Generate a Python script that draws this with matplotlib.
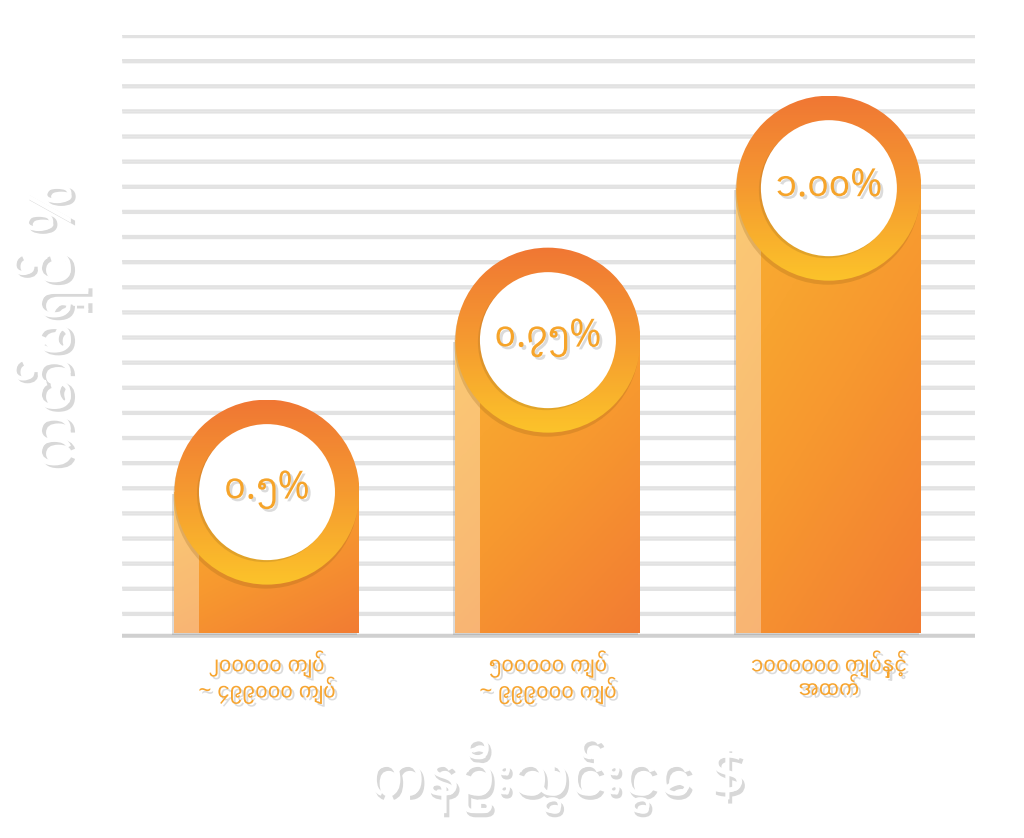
import matplotlib
matplotlib.use("Agg")
import numpy as np
import matplotlib.pyplot as plt
import matplotlib.patheffects as pe
from matplotlib.patches import Rectangle, Ellipse
from matplotlib.colors import LinearSegmentedColormap

plt.rcParams['font.family'] = ['Myanmar Sans Pro', 'Noto Sans Myanmar', 'Padauk', 'DejaVu Sans']

# datos
categorias = ["၂၀၀၀၀၀ ကျပ်\n~ ၄၉၉၀၀၀ ကျပ်",
              "၅၀၀၀၀၀ ကျပ်\n~ ၉၉၉၀၀၀ ကျပ်",
              "၁၀၀၀၀၀၀ ကျပ်နှင့်\nအထက်"]
valores = [0.5, 0.75, 1.0]
etiquetas = ["၀.၅%", "၀.၇၅%", "၁.၀၀%"]
titulo_x = "ကနဦးသွင်းငွေ $"
titulo_y = "ကော်မရှင် %"

W, H = 1024, 838
fig = plt.figure(figsize=(W / 100, H / 100), dpi=100)
izq, der, arr, abj = 122, 975, 35, 638
ax = fig.add_axes([izq / W, 1 - abj / H, (der - izq) / W, (abj - arr) / H])

xlim = (-0.516, 2.52)
ylim = (0.26, 1.252)
ax.set_xlim(*xlim)
ax.set_ylim(*ylim)
sx = (der - izq) / (xlim[1] - xlim[0])   # px por unidad
sy = (abj - arr) / (ylim[1] - ylim[0])

sombra_linea = [pe.SimpleLineShadow(offset=(1, -1.5), shadow_color='#a0a0a0', alpha=0.3), pe.Normal()]
sombra_texto = [pe.SimplePatchShadow(offset=(2, -2), shadow_rgbFace='#8a8a8a', alpha=0.3), pe.Normal()]

# lineas de fondo
for y in np.linspace(ylim[0], ylim[1], 25)[1:]:
    ax.axhline(y, color='#e2e2e2', lw=1.6, zorder=1, snap=False, path_effects=sombra_linea)
ax.axhline(ylim[0] + 0.004, color='#d0d0d0', lw=2.6, zorder=1, snap=False, path_effects=sombra_linea)

cmap_barra = LinearSegmentedColormap.from_list('barra', ['#f9b031', '#f7982f', '#f27c33'])
cmap_anillo = LinearSegmentedColormap.from_list('anillo', ['#f07734', '#f59a30', '#fcc32a'])

R = 92.5      # radio exterior px
r = 68        # radio circulo blanco px
franja = 25   # franja clara izquierda px

for i, (v, txt) in enumerate(zip(valores, etiquetas)):
    w = 2 * R / sx
    x0 = i - w / 2
    base = ylim[0] + 5 / sy

    # sombra barra
    ax.add_patch(Rectangle((x0 - 2 / sx, base - 2 / sy), w, v - base, color='#888888', alpha=0.3, lw=0, zorder=2))
    barra = Rectangle((x0, base), w, v - base, facecolor='none', lw=0, zorder=3)
    ax.add_patch(barra)
    gx, gy = np.meshgrid(np.linspace(0, 1, 100), np.linspace(0, 1, 200))
    grad = (gx * 0.4 + gy * 0.6)
    im = ax.imshow(grad, cmap=cmap_barra, extent=(x0, x0 + w, base, v), origin='upper',
                   aspect='auto', zorder=3, interpolation='bilinear')
    im.set_clip_path(barra)
    ax.add_patch(Rectangle((x0, base), franja / sx, v - base, color='white', alpha=0.33, lw=0, zorder=3.5))

    # sombra anillo
    ax.add_patch(Ellipse((i - 1 / sx, v - 4 / sy), 2 * R / sx, 2 * R / sy, color='#8a5a10', alpha=0.22, lw=0, zorder=4))
    anillo = Ellipse((i, v), 2 * R / sx, 2 * R / sy, facecolor='none', lw=0, zorder=4.5)
    ax.add_patch(anillo)
    grad2 = np.linspace(0, 1, 200)[:, None] * np.ones((1, 10))
    im2 = ax.imshow(grad2, cmap=cmap_anillo, extent=(i - R / sx, i + R / sx, v - R / sy, v + R / sy),
                    origin='upper', aspect='auto', zorder=4.5, interpolation='bilinear')
    im2.set_clip_path(anillo)

    # circulo blanco
    ax.add_patch(Ellipse((i - 2 / sx, v - 2 / sy), 2 * r / sx, 2 * r / sy, color='#9a6a20', alpha=0.25, lw=0, zorder=5))
    ax.add_patch(Ellipse((i, v), 2 * r / sx, 2 * r / sy, color='white', lw=0, zorder=5.5))

    ax.text(i, v + 2 / sy, txt, ha='center', va='center', fontsize=28, color='#f6a42a',
            zorder=6, path_effects=sombra_texto)

ax.set_xticks(range(len(categorias)))
ax.set_xticklabels(categorias, fontsize=16.5, color='#f7a530', linespacing=0.95)
for t in ax.get_xticklabels():
    t.set_path_effects(sombra_texto)
ax.tick_params(axis='x', length=0, pad=9)
ax.set_yticks([])
for s in ax.spines.values():
    s.set_visible(False)

fig.text(557 / W, 1 - 775 / H, titulo_x, ha='center', va='center', fontsize=46, color='white',
         path_effects=[pe.SimplePatchShadow(offset=(2, -3), shadow_rgbFace='#808080', alpha=0.3), pe.Normal()])
fig.text(50 / W, 1 - 325 / H, titulo_y, ha='center', va='center', rotation=90, fontsize=46, color='white',
         path_effects=[pe.SimplePatchShadow(offset=(3, -2), shadow_rgbFace='#808080', alpha=0.3), pe.Normal()])

fig.savefig("out.png", dpi=100, facecolor='white')
